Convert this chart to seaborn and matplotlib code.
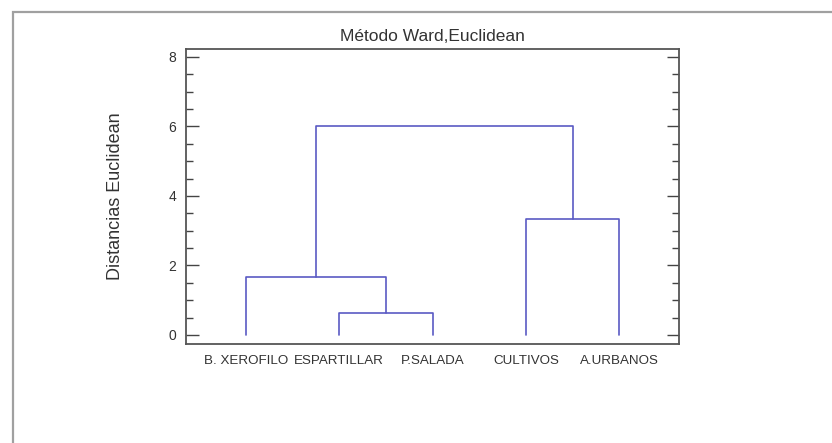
import numpy as np
import pandas as pd
import matplotlib
matplotlib.use("Agg")
import matplotlib.pyplot as plt
import seaborn as sns
from matplotlib.patches import Rectangle
from matplotlib.ticker import MultipleLocator

# ---- data ----
leaf_labels = ["B. XEROFILO", "ESPARTILLAR", "P.SALADA", "CULTIVOS", "A.URBANOS"]
# merges: node ids 0..4 are leaves, new clusters get ids 5, 6, 7, 8
merge_a = [1, 0, 3, 6]
merge_b = [2, 5, 4, 7]
merge_h = [0.62, 1.68, 3.35, 6.02]
y_ticks = [0, 2, 4, 6, 8]
title = "Método Ward,Euclidean"
ylabel = "Distancias Euclidean"

# ---- build dendrogram segments from the merges ----
pos = {i: float(i + 1) for i in range(len(leaf_labels))}
hgt = {i: 0.0 for i in range(len(leaf_labels))}
rows = []
for k, (a, b, h) in enumerate(zip(merge_a, merge_b, merge_h)):
    pts = [(pos[a], hgt[a]), (pos[a], h), (pos[b], h), (pos[b], hgt[b])]
    for j, (x, y) in enumerate(pts):
        rows.append({"seg": k, "order": j, "x": x, "y": y})
    nid = len(leaf_labels) + k
    pos[nid] = (pos[a] + pos[b]) / 2
    hgt[nid] = h
df = pd.DataFrame(rows)

# ---- figure ----
sns.set_style("white")
plt.rcParams["font.family"] = ["Liberation Sans", "DejaVu Sans"]

W, H = 832, 443
fig = plt.figure(figsize=(W / 100, H / 100), dpi=100)
ax = fig.add_axes([186 / W, 1 - 344 / H, (679 - 186) / W, (344 - 49) / H])

sns.lineplot(data=df, x="x", y="y", units="seg", estimator=None, sort=False,
             color="#5a5ac4", lw=1.2, ax=ax, legend=False)

ax.set_xlim(0.36, 5.64)
ax.set_ylim(-0.26, 8.23)

ax.set_xticks(range(1, len(leaf_labels) + 1))
ax.set_xticklabels(leaf_labels, fontsize=9.6, color="#333333")
ax.tick_params(axis="x", length=0, pad=8)

ax.set_yticks(y_ticks)
ax.yaxis.set_minor_locator(MultipleLocator(0.5))
ax.tick_params(axis="y", which="both", direction="in", left=True, right=True,
               color="#444444", width=1.0)
ax.tick_params(axis="y", which="major", length=9, labelsize=10, labelcolor="#333333", pad=7)
ax.tick_params(axis="y", which="minor", length=5)

for s in ax.spines.values():
    s.set_visible(True)
    s.set_color("#555555")
    s.set_linewidth(1.3)

ax.set_xlabel("")
ax.set_ylabel(ylabel, fontsize=13, color="#333333")
ax.yaxis.set_label_coords(-0.126, 0.5)
ax.set_title(title, fontsize=12.5, color="#333333", pad=6)

# outer frame (cropped at right/bottom)
fig.add_artist(Rectangle((13 / W, -0.05), 1.0, (H - 12) / H + 0.05,
                         transform=fig.transFigure, fill=False,
                         ec="#a0a0a0", lw=1.6, clip_on=False))

fig.savefig("out.png", dpi=100)
